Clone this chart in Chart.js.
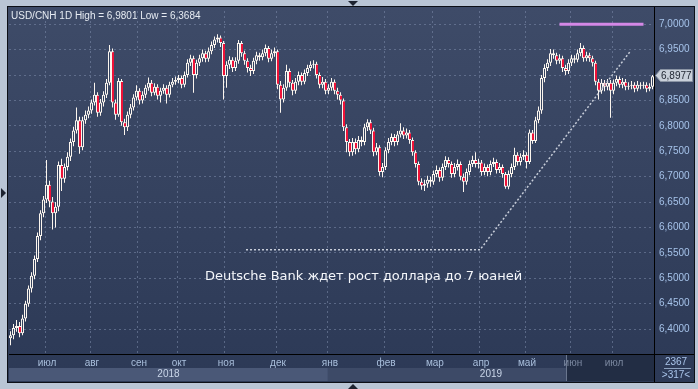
<!DOCTYPE html>
<html>
<head>
<meta charset="utf-8">
<script src="https://cdn.jsdelivr.net/npm/chart.js@4.4.1/dist/chart.umd.min.js"></script>
<style>
  html, body { margin: 0; padding: 0; background: #b9c5d5; }
  canvas { display: block; }
</style>
</head>
<body>
<canvas id="chart_cnh" width="698" height="389"></canvas>
<script>
// USD/CNH daily candles, mid June 2018 .. mid July 2019

var firstOpen = 6.382;

var closes = [
  6.388, 6.402, 6.406, 6.392, 6.421, 6.450, 6.480, 6.505, 6.538, 6.583,
  6.628, 6.655, 6.684, 6.651, 6.628, 6.641, 6.723, 6.696, 6.719, 6.739,
  6.768, 6.791, 6.811, 6.758, 6.811, 6.822, 6.830, 6.846, 6.861, 6.826,
  6.846, 6.861, 6.885, 6.947, 6.846, 6.822, 6.888, 6.807, 6.797, 6.822,
  6.836, 6.856, 6.869, 6.850, 6.861, 6.875, 6.885, 6.865, 6.877, 6.859,
  6.869, 6.875, 6.861, 6.881, 6.887, 6.890, 6.894, 6.881, 6.900, 6.924,
  6.933, 6.900, 6.924, 6.933, 6.943, 6.932, 6.947, 6.959, 6.970, 6.974,
  6.963, 6.898, 6.920, 6.930, 6.914, 6.928, 6.963, 6.943, 6.928, 6.914,
  6.908, 6.928, 6.939, 6.935, 6.943, 6.953, 6.932, 6.943, 6.947, 6.881,
  6.852, 6.875, 6.908, 6.885, 6.869, 6.887, 6.900, 6.887, 6.904, 6.914,
  6.920, 6.922, 6.900, 6.881, 6.887, 6.869, 6.875, 6.887, 6.869, 6.861,
  6.850, 6.797, 6.768, 6.748, 6.768, 6.754, 6.772, 6.768, 6.797, 6.807,
  6.791, 6.748, 6.758, 6.709, 6.719, 6.752, 6.768, 6.778, 6.768, 6.783,
  6.791, 6.781, 6.787, 6.772, 6.748, 6.725, 6.690, 6.682, 6.686, 6.694,
  6.690, 6.705, 6.713, 6.698, 6.719, 6.733, 6.725, 6.705, 6.719, 6.725,
  6.700, 6.690, 6.709, 6.725, 6.733, 6.725, 6.728, 6.709, 6.719, 6.709,
  6.725, 6.729, 6.713, 6.719, 6.705, 6.680, 6.705, 6.719, 6.743, 6.729,
  6.739, 6.743, 6.729, 6.787, 6.770, 6.811, 6.830, 6.894, 6.914, 6.924,
  6.943, 6.939, 6.928, 6.933, 6.914, 6.908, 6.924, 6.933, 6.930, 6.943,
  6.953, 6.933, 6.939, 6.933, 6.924, 6.887, 6.869, 6.885, 6.877, 6.885,
  6.869, 6.885, 6.892, 6.881, 6.887, 6.877, 6.879, 6.881, 6.873, 6.881,
  6.879, 6.881, 6.873, 6.877, 6.8977
];

var highs = [
  6.396, 6.410, 6.418, 6.414, 6.428, 6.456, 6.486, 6.512, 6.545, 6.590,
  6.634, 6.662, 6.733, 6.692, 6.660, 6.650, 6.730, 6.735, 6.726, 6.748,
  6.775, 6.798, 6.836, 6.818, 6.818, 6.830, 6.838, 6.852, 6.885, 6.866,
  6.853, 6.868, 6.892, 6.959, 6.952, 6.852, 6.894, 6.892, 6.814, 6.828,
  6.843, 6.862, 6.880, 6.874, 6.868, 6.881, 6.895, 6.890, 6.884, 6.882,
  6.875, 6.882, 6.880, 6.887, 6.894, 6.897, 6.900, 6.899, 6.907, 6.931,
  6.940, 6.938, 6.930, 6.940, 6.950, 6.948, 6.954, 6.966, 6.976, 6.980,
  6.978, 6.967, 6.927, 6.937, 6.935, 6.935, 6.969, 6.967, 6.948, 6.933,
  6.920, 6.934, 6.946, 6.944, 6.950, 6.960, 6.957, 6.950, 6.954, 6.950,
  6.888, 6.882, 6.920, 6.913, 6.890, 6.894, 6.907, 6.905, 6.911, 6.920,
  6.927, 6.929, 6.926, 6.905, 6.896, 6.892, 6.882, 6.894, 6.891, 6.875,
  6.866, 6.854, 6.803, 6.774, 6.776, 6.775, 6.780, 6.779, 6.804, 6.813,
  6.812, 6.796, 6.766, 6.762, 6.727, 6.758, 6.776, 6.785, 6.784, 6.790,
  6.805, 6.797, 6.795, 6.792, 6.777, 6.752, 6.730, 6.697, 6.694, 6.702,
  6.700, 6.712, 6.722, 6.718, 6.726, 6.740, 6.738, 6.730, 6.727, 6.734,
  6.730, 6.706, 6.716, 6.732, 6.741, 6.748, 6.735, 6.733, 6.726, 6.724,
  6.732, 6.737, 6.734, 6.727, 6.724, 6.709, 6.712, 6.726, 6.757, 6.748,
  6.746, 6.752, 6.748, 6.793, 6.792, 6.818, 6.838, 6.900, 6.921, 6.931,
  6.951, 6.950, 6.944, 6.941, 6.938, 6.920, 6.931, 6.940, 6.939, 6.950,
  6.963, 6.958, 6.946, 6.944, 6.938, 6.928, 6.892, 6.892, 6.890, 6.892,
  6.890, 6.891, 6.899, 6.897, 6.894, 6.892, 6.886, 6.888, 6.886, 6.888,
  6.886, 6.887, 6.886, 6.884, 6.900
];

var lows = [
  6.368, 6.380, 6.395, 6.384, 6.388, 6.415, 6.444, 6.472, 6.498, 6.532,
  6.575, 6.620, 6.648, 6.640, 6.596, 6.600, 6.632, 6.672, 6.688, 6.712,
  6.731, 6.760, 6.785, 6.745, 6.752, 6.804, 6.815, 6.824, 6.840, 6.818,
  6.820, 6.838, 6.855, 6.880, 6.836, 6.812, 6.818, 6.800, 6.782, 6.790,
  6.815, 6.830, 6.850, 6.842, 6.844, 6.855, 6.869, 6.858, 6.860, 6.852,
  6.846, 6.863, 6.844, 6.856, 6.876, 6.881, 6.884, 6.874, 6.876, 6.895,
  6.918, 6.865, 6.893, 6.918, 6.926, 6.925, 6.926, 6.941, 6.953, 6.964,
  6.955, 6.852, 6.875, 6.912, 6.906, 6.908, 6.922, 6.936, 6.920, 6.905,
  6.898, 6.902, 6.921, 6.928, 6.929, 6.937, 6.925, 6.927, 6.936, 6.872,
  6.826, 6.846, 6.869, 6.876, 6.860, 6.863, 6.880, 6.880, 6.882, 6.898,
  6.908, 6.913, 6.893, 6.874, 6.874, 6.862, 6.862, 6.869, 6.862, 6.852,
  6.842, 6.790, 6.748, 6.740, 6.741, 6.744, 6.748, 6.760, 6.762, 6.790,
  6.784, 6.740, 6.742, 6.702, 6.699, 6.713, 6.746, 6.762, 6.760, 6.762,
  6.777, 6.774, 6.775, 6.765, 6.741, 6.718, 6.683, 6.674, 6.672, 6.678,
  6.680, 6.684, 6.699, 6.690, 6.692, 6.713, 6.718, 6.698, 6.699, 6.712,
  6.693, 6.670, 6.684, 6.703, 6.719, 6.718, 6.716, 6.702, 6.703, 6.701,
  6.703, 6.719, 6.706, 6.707, 6.698, 6.676, 6.675, 6.699, 6.713, 6.722,
  6.722, 6.733, 6.716, 6.725, 6.765, 6.766, 6.805, 6.824, 6.886, 6.908,
  6.918, 6.932, 6.921, 6.922, 6.906, 6.900, 6.902, 6.918, 6.923, 6.925,
  6.937, 6.926, 6.927, 6.926, 6.917, 6.880, 6.852, 6.863, 6.868, 6.870,
  6.816, 6.862, 6.878, 6.875, 6.874, 6.870, 6.871, 6.872, 6.866, 6.868,
  6.872, 6.873, 6.866, 6.868, 6.872
];

// first bar of each month (bar index)
var monthLabels = ['июл', 'авг', 'сен', 'окт', 'ноя', 'дек', 'янв', 'фев', 'мар', 'апр', 'май', 'июн', 'июл'];
var monthPos = [11.5, 26.5, 42.2, 55.5, 71.2, 88.5, 105.8, 124.5, 140.8, 156.2, 171.5, 186.8, 200.5];
var yearLabels = ['2018', '2019'];

var yTicks = [6.40, 6.45, 6.50, 6.55, 6.60, 6.65, 6.70, 6.75, 6.80, 6.85, 6.90, 6.95, 7.00];

// drawn trend line and the 7.0 level
var trendX = [78.5, 156.5, 206.5];
var trendY = [6.556, 6.556, 6.946];
var levelX = [183, 211];
var levelY = [7.0, 7.0];

var titleText = 'USD/CNH 1D High = 6,9801 Low = 6,3684';
var noteText = 'Deutsche Bank ждет рост доллара до 7 юаней';
var barsTotal = '2367';
var barsShown = '>317<';

function fmt(v) { return v.toFixed(4).replace('.', ','); }

// candle bodies go from the previous close to the close
var bodies = [], wicks = [], bodyColors = [], bodyBorders = [];
closes.forEach(function(c, i) {
    var o = i === 0 ? firstOpen : closes[i - 1];
    bodies.push({x: i, y: [o, c]});
    wicks.push({x: i, y: [lows[i], highs[i]]});
    if (c < o) {
        bodyColors.push('#ee1238');
        bodyBorders.push({left: 1, right: 0, top: 1, bottom: 1});
    } else {
        bodyColors.push('#35435f');
        bodyBorders.push(1);
    }
});

var frame = {
    id: 'frame',
    beforeDraw: function(chart) {
        var ctx = chart.ctx, a = chart.chartArea, xs = chart.scales.x;
        ctx.save();
        ctx.fillStyle = '#b9c5d5';
        ctx.fillRect(0, 0, 698, 389);
        var g = ctx.createLinearGradient(0, 8, 0, 382);
        g.addColorStop(0, '#3e4b68');
        g.addColorStop(1, '#2c3956');
        ctx.fillStyle = g;
        ctx.fillRect(8, 7, 686, 375);

        // year strip under the month names
        var jan = xs.getPixelForValue(monthPos[6]);
        ctx.fillStyle = '#4a5877';
        ctx.fillRect(a.left, 368, jan - a.left, 13);
        ctx.fillStyle = '#3d4a67';
        ctx.fillRect(jan, 368, a.right - jan, 13);

        // selected range at the end
        var sx = Math.round(xs.getPixelForValue(monthPos[11])) - 5;
        ctx.fillStyle = '#222d44';
        ctx.fillRect(sx, 355, a.right - sx, 26);
        ctx.fillStyle = '#6a768e';
        ctx.fillRect(sx, 355, 1, 26);
        ctx.restore();
    },
    afterDraw: function(chart) {
        var ctx = chart.ctx, a = chart.chartArea, xs = chart.scales.x, ys = chart.scales.y;
        ctx.save();

        // panel border and axis lines
        ctx.strokeStyle = '#0c0f16';
        ctx.lineWidth = 1;
        ctx.strokeRect(7.5, 6.5, 687, 376);
        ctx.fillStyle = '#000';
        ctx.fillRect(a.right, 7, 1, 375);
        ctx.fillRect(a.left, a.bottom, 694 - a.left, 1);

        // title
        ctx.font = '10px "Liberation Sans"';
        ctx.fillStyle = '#e6ebf2';
        ctx.textBaseline = 'alphabetic';
        ctx.textAlign = 'left';
        ctx.fillText(titleText, 11, 19);

        // note
        ctx.font = '13px "DejaVu Sans"';
        ctx.fillStyle = '#f4f6fa';
        ctx.fillText(noteText, 205, 280);

        // years
        var jan = xs.getPixelForValue(monthPos[6]);
        ctx.font = '10px "Liberation Sans"';
        ctx.fillStyle = '#c9d5e8';
        ctx.textAlign = 'center';
        ctx.textBaseline = 'middle';
        ctx.fillText(yearLabels[0], (a.left + jan) / 2, 374);
        ctx.fillText(yearLabels[1], (jan + a.right) / 2, 374);

        // bar counter box
        ctx.fillStyle = '#a9c4ea';
        ctx.fillText(barsTotal, 676, 362);
        ctx.fillText(barsShown, 676, 375);
        ctx.fillStyle = '#8da2c0';
        ctx.fillRect(664, 368, 27, 1);

        // last price tag
        var last = closes[closes.length - 1];
        var py = Math.round(ys.getPixelForValue(last)) - 1;
        ctx.beginPath();
        ctx.moveTo(655.5, py + 0.5);
        ctx.lineTo(660.5, py - 5.5);
        ctx.lineTo(692.5, py - 5.5);
        ctx.lineTo(692.5, py + 6.5);
        ctx.lineTo(660.5, py + 6.5);
        ctx.closePath();
        ctx.fillStyle = '#c9d0da';
        ctx.fill();
        ctx.strokeStyle = '#8a94a4';
        ctx.stroke();
        ctx.fillStyle = '#1e2430';
        ctx.textAlign = 'left';
        ctx.font = '10px "Liberation Sans"';
        ctx.fillText(fmt(last), 661, py + 1);

        // frame markers
        ctx.fillStyle = '#1d2330';
        ctx.beginPath();
        ctx.moveTo(348, 1); ctx.lineTo(358, 1); ctx.lineTo(353, 6); ctx.closePath(); ctx.fill();
        ctx.beginPath();
        ctx.moveTo(348, 389); ctx.lineTo(358, 389); ctx.lineTo(353, 384); ctx.closePath(); ctx.fill();
        ctx.beginPath();
        ctx.moveTo(1, 188); ctx.lineTo(6, 193); ctx.lineTo(1, 198); ctx.closePath(); ctx.fill();
        ctx.restore();
    }
};

Chart.defaults.font.family = '"Liberation Sans"';
Chart.defaults.font.size = 10;

var ctxCNH = document.getElementById('chart_cnh').getContext('2d');
var chartCNH = new Chart(ctxCNH, {
    type: 'bar',
    data: {
        datasets: [{
            type: 'line',
            data: levelX.map(function(x, i) { return {x: x, y: levelY[i]}; }),
            borderColor: '#d488e6',
            borderWidth: 3,
            pointRadius: 0,
            order: -2
        }, {
            type: 'line',
            data: trendX.map(function(x, i) { return {x: x, y: trendY[i]}; }),
            borderColor: '#c6ccd8',
            borderWidth: 1.5,
            borderDash: [2, 2],
            pointRadius: 0,
            order: -1
        }, {
            data: bodies,
            backgroundColor: bodyColors,
            borderColor: '#fbf5ee',
            borderWidth: bodyBorders,
            borderSkipped: false,
            barThickness: 3,
            maxBarThickness: 3,
            grouped: false,
            inflateAmount: 0,
            order: 0
        }, {
            data: wicks,
            backgroundColor: '#fbf5ee',
            borderWidth: 0,
            barThickness: 1,
            maxBarThickness: 1,
            grouped: false,
            inflateAmount: 0,
            order: 1
        }]
    },
    options: {
        responsive: false,
        devicePixelRatio: 1,
        animation: false,
        events: [],
        layout: { padding: { left: 9, top: 8, right: 4, bottom: 8 } },
        plugins: {
            legend: { display: false },
            tooltip: { enabled: false }
        },
        scales: {
            x: {
                type: 'linear',
                min: -0.5,
                max: closes.length - 0.5,
                offset: false,
                afterBuildTicks: function(s) {
                    s.ticks = monthPos.map(function(v) { return {value: v}; });
                },
                afterFit: function(s) { s.height = 27; },
                grid: {
                    offset: false,
                    color: 'rgba(125,140,172,0.55)',
                    drawTicks: false
                },
                border: { display: false, dash: [2, 3] },
                ticks: {
                    autoSkip: false,
                    maxRotation: 0,
                    padding: 3,
                    labelOffset: 2,
                    color: function(c) { return c.index >= 11 ? '#7b88a0' : '#a9bfdc'; },
                    callback: function(v, i) { return monthLabels[i]; }
                }
            },
            y: {
                type: 'linear',
                position: 'right',
                min: 6.351,
                max: 7.026,
                afterBuildTicks: function(s) {
                    s.ticks = yTicks.map(function(v) { return {value: v}; });
                },
                afterFit: function(s) { s.width = 40; },
                grid: {
                    color: 'rgba(125,140,172,0.55)',
                    drawTicks: false
                },
                border: { display: false, dash: [2, 3] },
                ticks: {
                    padding: 5,
                    color: '#a6c3ea',
                    callback: function(v) { return fmt(v); }
                }
            }
        }
    },
    plugins: [frame]
});
</script>
</body>
</html>
